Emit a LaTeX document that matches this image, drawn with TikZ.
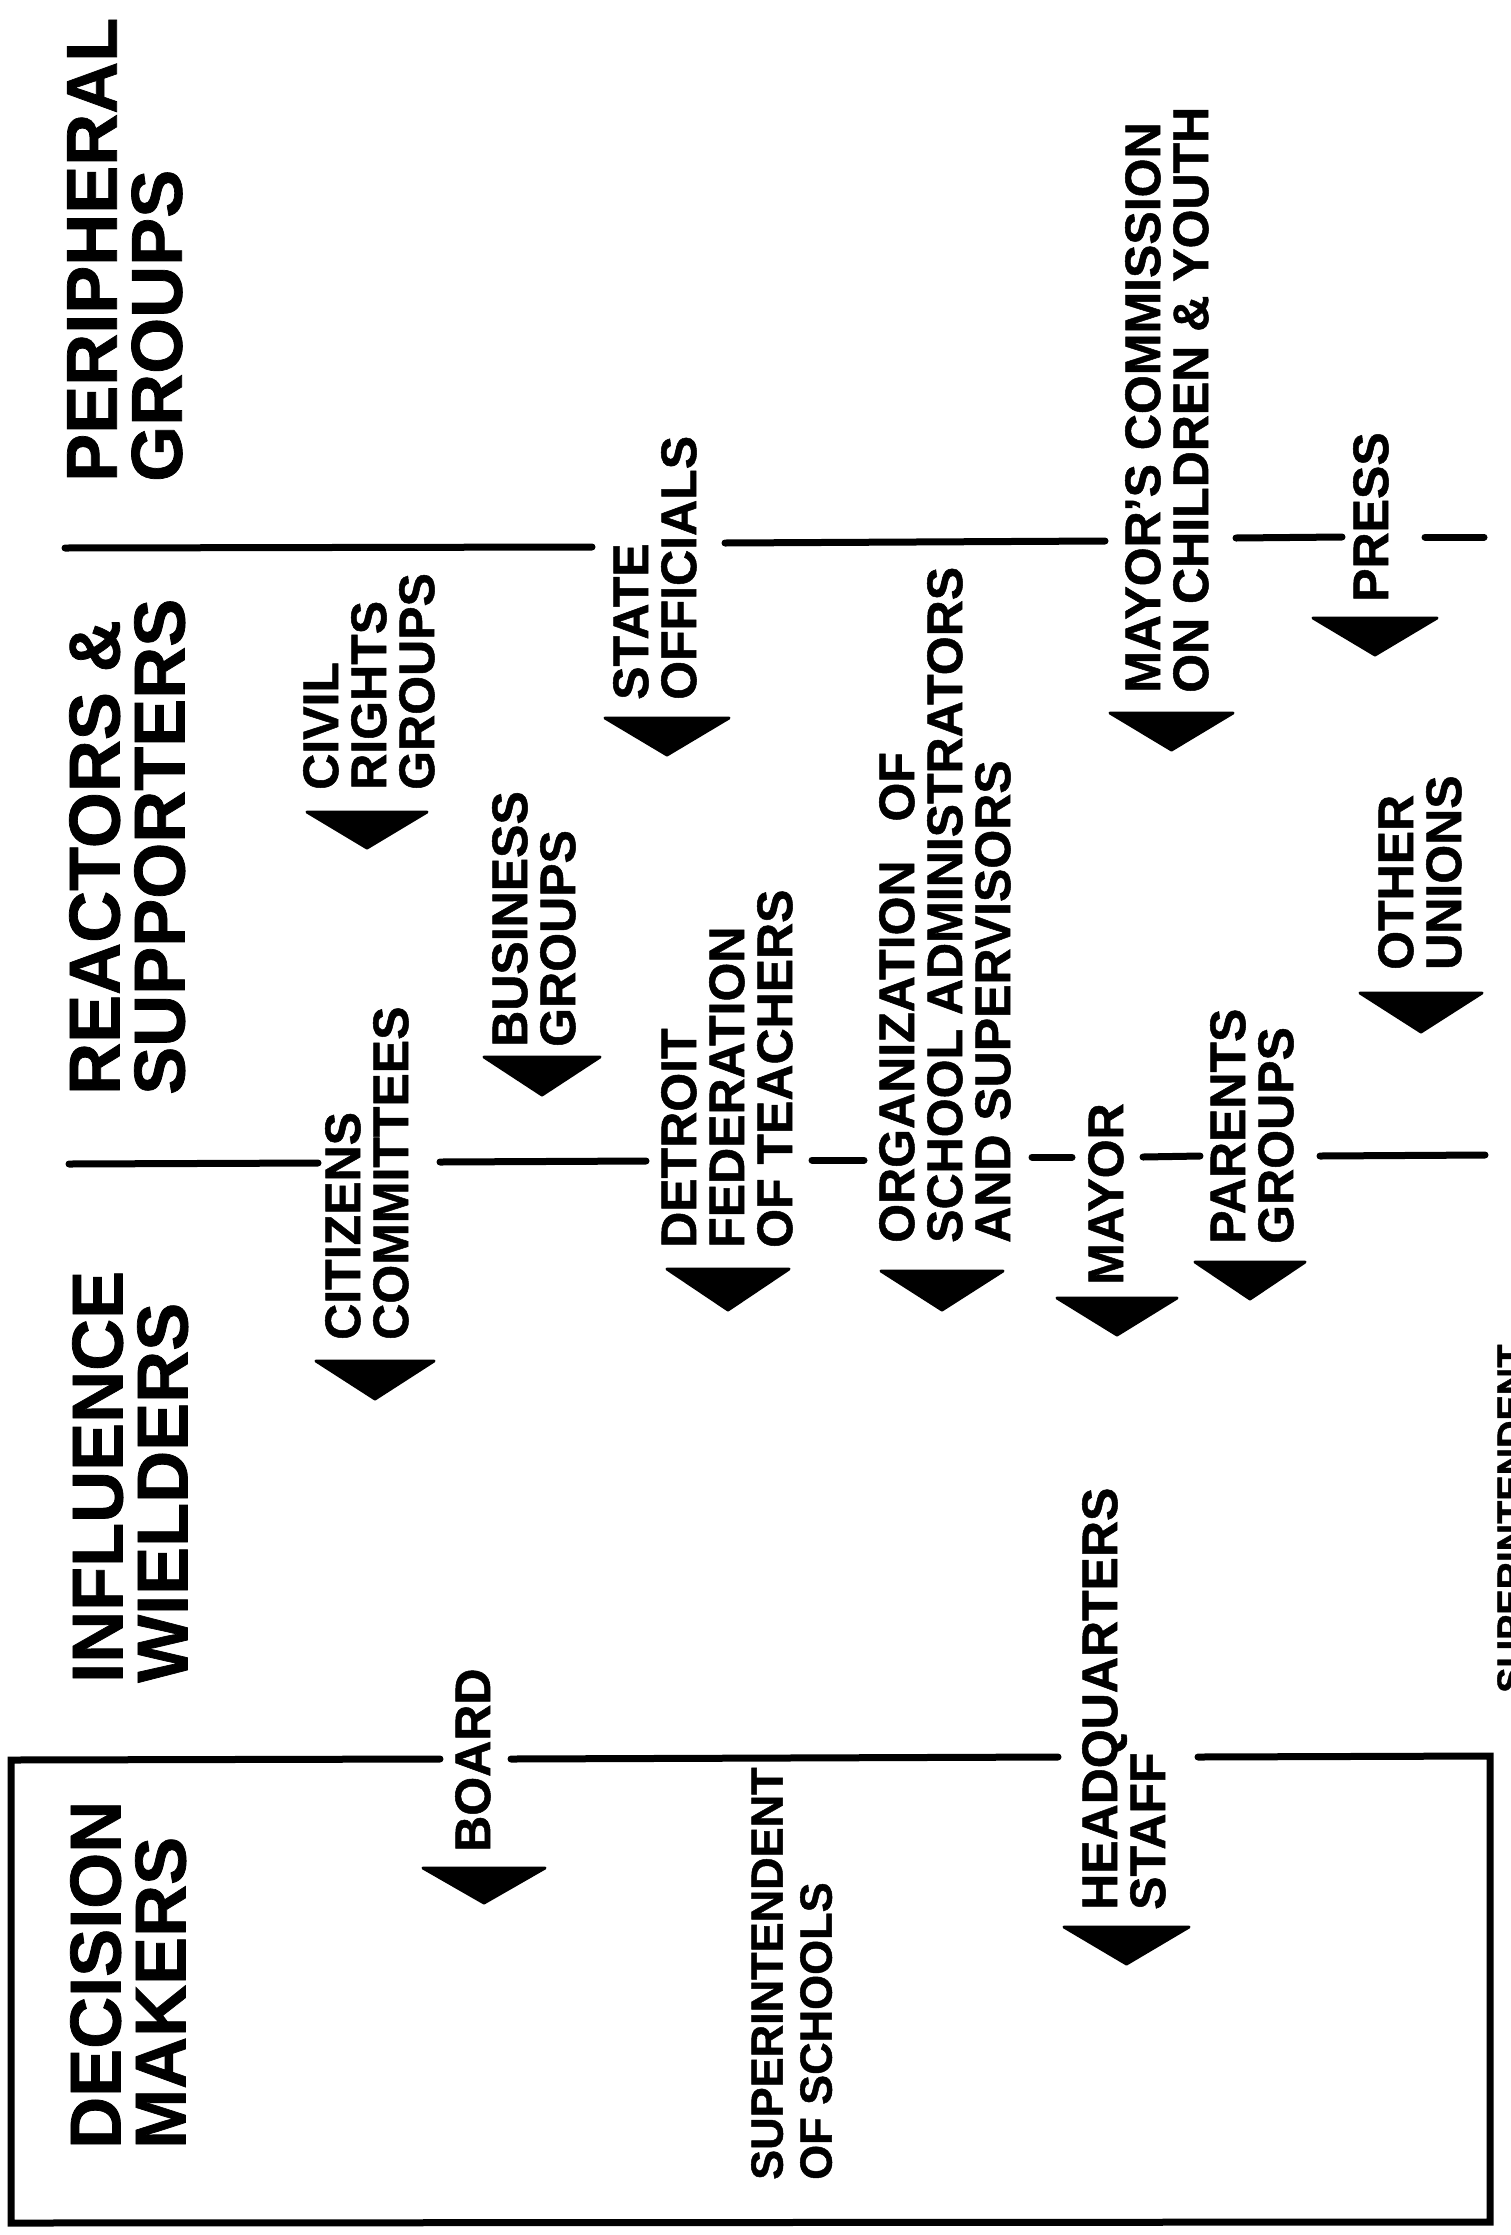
\documentclass[tikz,border=0pt]{standalone}
\usepackage{fontspec}
\setmainfont[BoldFeatures={FakeBold=1}]{Liberation Sans}
\newcommand\arrowtri[4]{\filldraw[tri] (#1,#3) -- (#2,#3) -- ({(#1+#2)/2},#4) -- cycle;}
\tikzset{
  hdr/.style={rotate=90, anchor=north west, inner sep=0pt, align=left,
              font=\bfseries\fontsize{72}{65}\selectfont},
  lbl/.style={rotate=90, anchor=north west, inner sep=0pt, align=left,
              font=\bfseries\fontsize{50}{48}\selectfont},
  sep/.style={line width=7pt, line cap=round, line join=miter},
  tri/.style={fill=black, draw=black, line width=3pt, line join=round},
}
\begin{document}
\begin{tikzpicture}[x=1pt, y=-1pt]
\useasboundingbox (0,0) rectangle (1510,2235);
\fill[white] (0,0) rectangle (1510,2235);

% column headings
\node[hdr] (peri) at (67,482)  {PERIPHERAL\\GROUPS};
\node[hdr] (reac) at (69,1095) {REACTORS \&\\SUPPORTERS};
\node[hdr] (infl) at (72,1683) {INFLUENCE\\WIELDERS};
\node[hdr] (deci) at (70,2149) {DECISION\\MAKERS};

% separator between peripheral groups and reactors
\draw[sep] (65,548) -- (592,547);
\draw[sep] (725,543) -- (1105,541);
\draw[sep] (1236,538) -- (1342,537);
\draw[sep] (1425,537) -- (1484,537);

% separator between reactors and influence wielders
\draw[sep] (69,1164) -- (318,1163);
\draw[sep] (440,1162) -- (646,1161);
\draw[sep] (812,1160) -- (864,1160);
\draw[sep] (1032,1157) -- (1072,1157);
\draw[sep] (1143,1157) -- (1200,1156);
\draw[sep] (1320,1156) -- (1485,1155);

% decision makers box
\draw[sep] (440,1759) -- (11,1760) -- (11,2223) -- (1490,2222) -- (1490,1756) -- (1198,1757);
\draw[sep] (511,1759) -- (1058,1757);

% labels
\node[lbl] (board) at (455,1852) {BOARD};
\node[lbl] (citz)  at (325,1340) {CITIZENS\\COMMITTEES};
\node[lbl] (civil) at (303,790)  {CIVIL\\RIGHTS\\GROUPS};
\node[lbl] (bus)   at (492,1047) {BUSINESS\\GROUPS};
\node[lbl] (state) at (613,700)  {STATE\\OFFICIALS};
\node[lbl] (dft)   at (661,1248) {DETROIT\\FEDERATION\\OF TEACHERS};
\node[lbl] (org)   at (879,1243) {ORGANIZATION\hspace{0.5em} OF\\SCHOOL ADMINISTRATORS\\AND SUPERVISORS};
\node[lbl] (mayor) at (1088,1285) {MAYOR};
\node[lbl] (par)   at (1210,1244) {PARENTS\\GROUPS};
\node[lbl] (oth)   at (1378,970)  {OTHER\\UNIONS};
\node[lbl] (mcom)  at (1125,693)  {MAYOR’S COMMISSION\\ON CHILDREN \& YOUTH};
\node[lbl] (press) at (1353,602)  {PRESS};
\node[lbl] (hq)    at (1082,1910) {HEADQUARTERS\\STAFF};
\node[lbl, font=\bfseries\fontsize{45}{49}\selectfont] (sup) at (751,2180) {SUPERINTENDENT\\OF SCHOOLS};
\node[lbl, font=\bfseries\fontsize{38}{40}\selectfont] (supcut) at (1497,1693) {SUPERINTENDENT};

% arrowheads
\arrowtri{423}{545}{1868}{1903}
\arrowtri{316}{434}{1361}{1399}
\arrowtri{307}{427}{812}{848}
\arrowtri{484}{600}{1057}{1095}
\arrowtri{605}{729}{718}{755}
\arrowtri{667}{789}{1269}{1310}
\arrowtri{881}{1003}{1271}{1310}
\arrowtri{1057}{1177}{1298}{1335}
\arrowtri{1195}{1305}{1262}{1299}
\arrowtri{1360}{1482}{993}{1032}
\arrowtri{1110}{1233}{713}{750}
\arrowtri{1313}{1437}{618}{655}
\arrowtri{1064}{1189}{1927}{1964}
\end{tikzpicture}
\end{document}
